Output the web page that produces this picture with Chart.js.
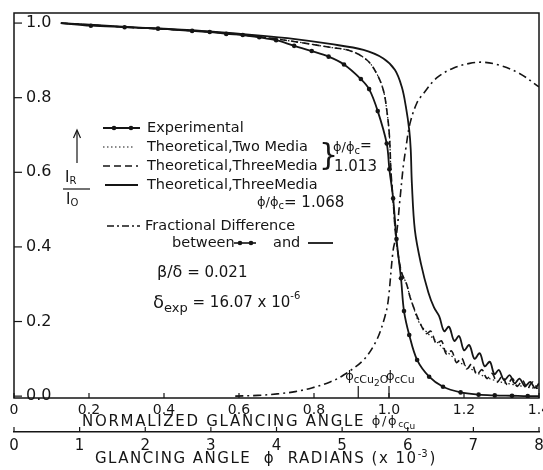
<!DOCTYPE html>
<html>
<head>
<meta charset="utf-8">
<script src="https://cdn.jsdelivr.net/npm/chart.js@4.4.1/dist/chart.umd.min.js"></script>
<style>
  html, body { margin: 0; padding: 0; background: #fff; }
  #wrap { width: 543px; height: 470px; }
</style>
</head>
<body>
<div id="wrap"><canvas id="chart" width="543" height="470"></canvas></div>
<script>
// x = normalized glancing angle phi/phi_cCu, y = I_R / I_0
const expX = [0.125, 0.205, 0.295, 0.384, 0.475, 0.522, 0.566, 0.610, 0.654, 0.699, 0.747, 0.794, 0.839,
              0.880, 0.925, 0.947, 0.970, 0.994, 1.001, 1.011, 1.020, 1.032, 1.040, 1.054, 1.075, 1.107,
              1.144, 1.191, 1.239, 1.282, 1.328, 1.370, 1.400];
const expY = [1.000, 0.993, 0.989, 0.985, 0.979, 0.976, 0.971, 0.968, 0.962, 0.954, 0.939, 0.925, 0.910,
              0.889, 0.850, 0.823, 0.764, 0.677, 0.608, 0.530, 0.421, 0.316, 0.228, 0.164, 0.097, 0.052,
              0.025, 0.010, 0.004, 0.002, 0.001, 0.000, 0.000];

// theoretical, three media, phi/phi_c = 1.068 (solid)
const three068X = [0.125, 0.3, 0.5, 0.65, 0.75, 0.843, 0.932, 0.985, 1.016, 1.034, 1.045, 1.054, 1.058, 1.061,
                   1.069, 1.085, 1.105, 1.120, 1.134, 1.147, 1.160, 1.174, 1.187, 1.200, 1.214, 1.228, 1.242,
                   1.255, 1.269, 1.281, 1.293, 1.307, 1.322, 1.335, 1.348, 1.362, 1.377, 1.389, 1.400];
const three068Y = [1.000, 0.990, 0.979, 0.967, 0.957, 0.944, 0.928, 0.905, 0.874, 0.829, 0.776, 0.713, 0.660, 0.570,
                   0.445, 0.356, 0.278, 0.238, 0.214, 0.174, 0.186, 0.148, 0.161, 0.123, 0.137, 0.100, 0.115,
                   0.080, 0.092, 0.059, 0.070, 0.043, 0.056, 0.034, 0.047, 0.027, 0.038, 0.022, 0.034];

// theoretical, three media, phi/phi_c = 1.013 (dashed)
const three013X = [0.125, 0.3, 0.5, 0.65, 0.75, 0.843, 0.896, 0.941, 0.967, 0.985, 0.994, 1.000, 1.003, 1.005,
                   1.011, 1.017, 1.025, 1.034, 1.047, 1.056, 1.065, 1.078, 1.099, 1.112, 1.126, 1.140, 1.153,
                   1.167, 1.180, 1.194, 1.207, 1.221, 1.234, 1.248, 1.261, 1.275, 1.288, 1.302, 1.315, 1.329,
                   1.342, 1.356, 1.369, 1.383, 1.396];
const three013Y = [1.000, 0.989, 0.978, 0.964, 0.950, 0.935, 0.926, 0.901, 0.865, 0.820, 0.767, 0.713, 0.660, 0.606,
                   0.525, 0.440, 0.375, 0.330, 0.300, 0.266, 0.240, 0.207, 0.168, 0.174, 0.141, 0.148, 0.113,
                   0.121, 0.090, 0.102, 0.073, 0.086, 0.058, 0.071, 0.047, 0.061, 0.037, 0.053, 0.031, 0.047,
                   0.026, 0.042, 0.021, 0.038, 0.020];

// theoretical, two media, phi/phi_c = 1.013 (dotted)
const twoX = [0.125, 0.3, 0.5, 0.65, 0.75, 0.843, 0.896, 0.941, 0.967, 0.985, 0.994, 1.000, 1.003, 1.005,
              1.011, 1.017, 1.025, 1.034, 1.047, 1.056, 1.065, 1.078, 1.100, 1.127, 1.153, 1.184, 1.215,
              1.247, 1.286, 1.331, 1.375, 1.400];
const twoY = [1.000, 0.989, 0.978, 0.964, 0.950, 0.935, 0.926, 0.901, 0.865, 0.820, 0.767, 0.713, 0.660, 0.606,
              0.525, 0.440, 0.375, 0.330, 0.300, 0.266, 0.240, 0.202, 0.172, 0.146, 0.120, 0.094, 0.075,
              0.056, 0.041, 0.031, 0.023, 0.020];

// fractional difference between experimental and three media 1.068 (dash-dot)
const fracX = [0.590, 0.650, 0.702, 0.750, 0.794, 0.843, 0.878, 0.932, 0.967, 0.989, 0.998, 1.011, 1.020,
               1.029, 1.038, 1.045, 1.056, 1.074, 1.091, 1.127, 1.171, 1.215, 1.251, 1.295, 1.348, 1.400];
const fracY = [0.000, 0.002, 0.006, 0.012, 0.022, 0.038, 0.056, 0.097, 0.150, 0.213, 0.257, 0.391, 0.434,
               0.525, 0.615, 0.665, 0.731, 0.785, 0.810, 0.853, 0.879, 0.892, 0.895, 0.887, 0.865, 0.829];

const yTicks = [0, 0.2, 0.4, 0.6, 0.8, 1.0];
const yTickLabels = ['0.0', '0.2', '0.4', '0.6', '0.8', '1.0'];
const xTicks = [0, 0.2, 0.4, 0.6, 0.8, 1.0, 1.2, 1.4];
const xTickLabels = ['0', '0.2', '0.4', '0.6', '0.8', '1.0', '1.2', '1.4'];
const radTicks = [0, 1, 2, 3, 4, 5, 6, 7, 8];
const radTickLabels = ['0', '1', '2', '3', '4', '5', '6', '7', '8'];
const phiCu2O = 0.918;   // critical angle of Cu2O, normalized
const phiCu = 1.0;

const FONT = '"DejaVu Sans", sans-serif';
const INK = '#151515';

function pts(xs, ys) {
    return xs.map((x, i) => ({ x: x, y: ys[i] }));
}

function runs(ctx, x, y, parts, spacing) {
    ctx.letterSpacing = (spacing || 0) + 'px';
    parts.forEach(p => {
        ctx.font = p[1] + 'px ' + FONT;
        ctx.textAlign = 'left';
        ctx.fillText(p[0], x, y + (p[2] || 0));
        x += ctx.measureText(p[0]).width;
    });
    ctx.letterSpacing = '0px';
    return x;
}

function sample(ctx, x1, x2, y, dash, dots, width) {
    ctx.save();
    ctx.lineWidth = width || 1.6;
    ctx.setLineDash(dash);
    ctx.beginPath();
    ctx.moveTo(x1, y);
    ctx.lineTo(x2, y);
    ctx.stroke();
    ctx.restore();
    (dots || []).forEach(d => {
        ctx.beginPath();
        ctx.arc(d, y, 2.3, 0, Math.PI * 2);
        ctx.fill();
    });
}

const annotations = {
    id: 'annotations',
    afterDatasetsDraw(chart) {
        const ctx = chart.ctx;
        const a = chart.chartArea;
        const xs = chart.scales.x, x2 = chart.scales.x2, ys = chart.scales.y;
        ctx.save();
        ctx.strokeStyle = INK;
        ctx.fillStyle = INK;
        ctx.textBaseline = 'middle';

        // frame
        ctx.lineWidth = 1.5;
        ctx.strokeRect(a.left, a.top, a.right - a.left, a.bottom - a.top);

        // inward ticks
        ctx.lineWidth = 1.2;
        yTicks.forEach(v => {
            const py = ys.getPixelForValue(v);
            ctx.beginPath(); ctx.moveTo(a.left, py); ctx.lineTo(a.left + 8, py); ctx.stroke();
        });
        xTicks.forEach(v => {
            const px = xs.getPixelForValue(v);
            ctx.beginPath(); ctx.moveTo(px, a.bottom); ctx.lineTo(px, a.bottom - 5); ctx.stroke();
        });
        radTicks.forEach(v => {
            const px = x2.getPixelForValue(v);
            ctx.beginPath(); ctx.moveTo(px, x2.top); ctx.lineTo(px, x2.top - 5); ctx.stroke();
        });

        // critical angle markers
        [phiCu2O, phiCu].forEach(v => {
            const px = xs.getPixelForValue(v);
            ctx.beginPath(); ctx.moveTo(px, a.bottom); ctx.lineTo(px, a.bottom - 12); ctx.stroke();
        });
        let cx = xs.getPixelForValue(phiCu2O) - 13;
        cx = runs(ctx, cx, 377, [['ϕ', 13], ['c', 10, 3]]);
        runs(ctx, cx, 380, [['Cu', 11, 0], ['2', 9, 4], ['O', 11, 0]]);
        cx = xs.getPixelForValue(phiCu) - 3;
        cx = runs(ctx, cx, 377, [['ϕ', 13], ['c', 10, 3]]);
        runs(ctx, cx, 380, [['Cu', 11, 0]]);

        // legend
        ctx.lineWidth = 1.6;
        sample(ctx, 103, 140, 128, [], [114, 131], 1.8);
        runs(ctx, 147, 128, [['Experimental', 14.5]]);
        sample(ctx, 103, 133, 147, [1.5, 2.5], [], 1.2);
        runs(ctx, 147, 147, [['Theoretical,Two Media', 14.5]]);
        sample(ctx, 103, 138, 166, [7, 4], [], 1.6);
        runs(ctx, 147, 166, [['Theoretical,ThreeMedia', 14.5]]);
        ctx.font = '30px ' + FONT;
        ctx.fillText('}', 319, 157);
        cx = runs(ctx, 333, 148, [['ϕ', 13], ['/', 13], ['ϕ', 13], ['c', 10, 3]]);
        runs(ctx, cx, 146, [['=', 14]]);
        runs(ctx, 334, 167, [['1.013', 15]]);
        sample(ctx, 105, 138, 185, [], [], 1.8);
        runs(ctx, 147, 185, [['Theoretical,ThreeMedia', 14.5]]);
        runs(ctx, 257, 203, [['ϕ', 13], ['/', 13], ['ϕ', 13], ['c', 10, 3], ['= 1.068', 15]]);
        sample(ctx, 107, 140, 226, [7, 3, 2, 3], [], 1.6);
        runs(ctx, 145, 226, [['Fractional Difference', 14.5]]);
        runs(ctx, 172, 243, [['between', 14.5]]);
        sample(ctx, 234, 256, 243, [], [240, 251], 1.6);
        runs(ctx, 273, 243, [['and', 14.5]]);
        sample(ctx, 308, 333, 243, [], [], 1.8);

        // parameters
        runs(ctx, 157, 273, [['β', 16], ['/', 16], ['δ', 16], [' = 0.021', 15]]);
        cx = runs(ctx, 153, 303, [['δ', 18]]);
        cx = runs(ctx, cx, 309, [['exp', 13]]);
        cx = runs(ctx, cx, 303, [[' = 16.07 x 10', 15]]);
        runs(ctx, cx, 296, [['-6', 10]]);

        // y label with arrow
        ctx.lineWidth = 1.2;
        ctx.beginPath(); ctx.moveTo(77, 163); ctx.lineTo(77, 131); ctx.stroke();
        ctx.beginPath(); ctx.moveTo(73.5, 138); ctx.lineTo(77, 130); ctx.lineTo(80.5, 138); ctx.stroke();
        cx = runs(ctx, 65, 178, [['I', 15]]);
        runs(ctx, cx, 181, [['R', 10]]);
        ctx.beginPath(); ctx.moveTo(63, 189); ctx.lineTo(90, 189); ctx.stroke();
        cx = runs(ctx, 66, 200, [['I', 15]]);
        runs(ctx, cx, 203, [['O', 10]]);

        // axis titles
        cx = runs(ctx, 82, 422, [['NORMALIZED GLANCING ANGLE ', 15], ['ϕ', 13], ['/', 13], ['ϕ', 13]], 1.7);
        runs(ctx, cx, 425, [['c', 9], ['Cu', 9, 2]]);
        cx = runs(ctx, 95, 459, [['GLANCING ANGLE  ϕ  RADIANS (x 10', 15]], 1.5);
        cx = runs(ctx, cx, 454, [['-3', 10]]);
        runs(ctx, cx + 2, 459, [[')', 15]]);
        ctx.restore();
    }
};

const line = (data, dash, width, extra) => Object.assign({
    data: data,
    borderColor: INK,
    backgroundColor: INK,
    borderWidth: width,
    borderDash: dash,
    pointRadius: 0,
    tension: 0.35,
    fill: false
}, extra || {});

const chart = new Chart(document.getElementById('chart').getContext('2d'), {
    type: 'line',
    data: {
        datasets: [
            line(pts(fracX, fracY), [8, 4, 2, 4], 1.6),
            line(pts(twoX, twoY), [1.5, 2.5], 1.2),
            line(pts(three013X, three013Y), [7, 4], 1.6),
            line(pts(three068X, three068Y), [], 1.8),
            line(pts(expX, expY), [], 1.8, {
                pointRadius: expX.map((x, i) => (i === 0 || i === expX.length - 1) ? 0 : 2.3),
                pointBorderWidth: 0
            })
        ]
    },
    options: {
        responsive: false,
        animation: false,
        devicePixelRatio: 1,
        layout: { padding: { left: 14, right: 4, top: 13, bottom: 0 } },
        plugins: { legend: { display: false }, tooltip: { enabled: false } },
        scales: {
            x: {
                type: 'linear', position: 'bottom', min: 0, max: 1.4,
                grid: { display: false, drawTicks: false },
                border: { display: false },
                afterBuildTicks: s => { s.ticks = xTicks.map(v => ({ value: v })); },
                ticks: {
                    color: INK, padding: 4, maxRotation: 0, autoSkip: false,
                    font: { family: FONT, size: 14 },
                    callback: (v, i) => xTickLabels[i]
                },
                afterFit: s => { s.height = 34; s.paddingLeft = 0; s.paddingRight = 0; }
            },
            x2: {
                type: 'linear', position: 'bottom', min: 0, max: 8,
                grid: { display: false, drawTicks: false },
                border: { display: true, color: INK, width: 1.5 },
                afterBuildTicks: s => { s.ticks = radTicks.map(v => ({ value: v })); },
                ticks: {
                    color: INK, padding: 5, maxRotation: 0, autoSkip: false,
                    font: { family: FONT, size: 15 },
                    callback: (v, i) => radTickLabels[i]
                },
                afterFit: s => { s.height = 38; s.paddingLeft = 0; s.paddingRight = 0; }
            },
            y: {
                type: 'linear', position: 'left', min: -0.005, max: 1.027,
                grid: { display: false, drawTicks: false },
                border: { display: false },
                afterBuildTicks: s => { s.ticks = yTicks.map(v => ({ value: v })); },
                ticks: {
                    mirror: true, padding: 12, color: INK,
                    font: { family: FONT, size: 16 },
                    callback: (v, i) => yTickLabels[i]
                },
                afterFit: s => { s.width = 0; s.paddingTop = 0; s.paddingBottom = 0; }
            }
        }
    },
    plugins: [annotations]
});
</script>
</body>
</html>
